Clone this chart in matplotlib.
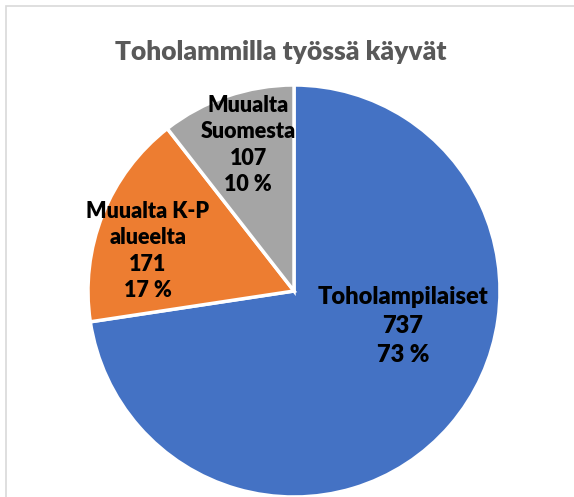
import matplotlib.pyplot as plt
import matplotlib.patches as patches

plt.rcParams['font.family'] = ['Lato', 'DejaVu Sans']

categories = ['Toholampilaiset', 'Muualta K-P\nalueelta', 'Muualta\nSuomesta']
values = [737, 171, 107]
percents = [73, 17, 10]  # as shown in the chart
colors = ['#4472C4', '#ED7D31', '#A5A5A5']
# label positions as fractions of the pie radius (Excel best fit)
label_pos = [(0.529, -0.17), (-0.709, 0.194), (-0.223, 0.709)]
label_size = [17, 15.5, 15.5]
label_spacing = [1.38, 1.33, 1.33]

fig = plt.figure(figsize=(5.74, 4.97), dpi=100)
fig.patch.set_facecolor('white')

# light chart frame (cropped on right/bottom)
fig.add_artist(patches.Rectangle((5.5 / 574, -0.1), 1.2, 1 - 5.5 / 497 + 0.1,
                                 transform=fig.transFigure, fill=False,
                                 edgecolor='#D9D9D9', linewidth=1.2))

ax = fig.add_axes([(294 - 206) / 574, (497 - 291 - 206) / 497, 412 / 574, 412 / 497])
wedges, _ = ax.pie(values, colors=colors, startangle=90, counterclock=False,
                   wedgeprops=dict(edgecolor='white', linewidth=2.5))
ax.set_xlim(-1, 1)
ax.set_ylim(-1, 1)

for i, (cat, v, p, (x, y)) in enumerate(zip(categories, values, percents, label_pos)):
    ax.text(x, y, f"{cat}\n{v}\n{p} %", ha='center', va='center',
            fontsize=label_size[i], fontweight=800, color='black',
            linespacing=label_spacing[i])

fig.text(281 / 574, 1 - 52 / 497, 'Toholammilla työssä käyvät', ha='center', va='center',
         fontsize=19, fontweight=800, color='#595959')

fig.savefig('out.png', dpi=100)
